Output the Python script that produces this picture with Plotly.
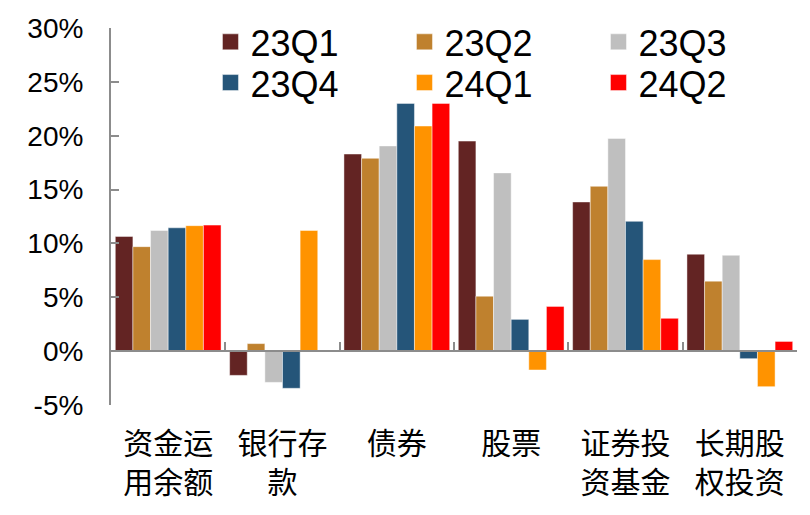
import plotly.graph_objects as go

categories = ["资金运<br>用余额", "银行存<br>款", "债券", "股票", "证券投<br>资基金", "长期股<br>权投资"]
series_names = ["23Q1", "23Q2", "23Q3", "23Q4", "24Q1", "24Q2"]
v_23Q1 = [10.65, -2.25, 18.3, 19.5, 13.85, 9.0]
v_23Q2 = [9.7, 0.7, 17.9, 5.1, 15.3, 6.5]
v_23Q3 = [11.2, -2.9, 19.05, 16.55, 19.75, 8.9]
v_23Q4 = [11.45, -3.45, 23.0, 2.95, 12.05, -0.7]
v_24Q1 = [11.65, 11.2, 20.9, -1.75, 8.5, -3.3]
v_24Q2 = [11.7, None, 23.0, 4.15, 3.05, 0.9]
series_values = [v_23Q1, v_23Q2, v_23Q3, v_23Q4, v_24Q1, v_24Q2]
colors = ["#632423", "#BF812E", "#BFBFBF", "#255579", "#FF9300", "#FF0000"]

y_ticks = [-5, 0, 5, 10, 15, 20, 25, 30]
y_tick_labels = [f"{v}%" for v in y_ticks]
y_min, y_max = y_ticks[0], y_ticks[-1]
axis_gray = "#8C8C8C"
cjk_font = "Noto Sans CJK SC, Noto Sans CJK JP, sans-serif"
lat_font = "Liberation Sans, Arial, sans-serif"

fig = go.Figure()
for name, vals, col in zip(series_names, series_values, colors):
    fig.add_trace(go.Bar(
        x=categories, y=vals, name=name, marker_color=col,
        marker_line=dict(color="rgba(255,255,255,0.45)", width=1),
        showlegend=False,
    ))

# legend entries (larger square symbols), split into two rows
for i, (name, col) in enumerate(zip(series_names, colors)):
    fig.add_trace(go.Scatter(
        x=[None], y=[None], mode="markers", name=name,
        marker=dict(symbol="square", size=16, color=col,
                    line=dict(color="rgba(255,255,255,0.45)", width=1)),
        legend="legend" if i < 3 else "legend2",
    ))

# helper trace for the zero-line axis
fig.add_trace(go.Scatter(x=[None], y=[None], xaxis="x2", showlegend=False, hoverinfo="skip"))

n = len(categories)
boundaries = [i - 0.5 for i in range(n + 1)]

legend_common = dict(
    orientation="h", bgcolor="rgba(0,0,0,0)", entrywidth=149, entrywidthmode="pixels",
    font=dict(family=lat_font, size=36, color="black"), xanchor="left", yanchor="middle",
    itemsizing="trace", tracegroupgap=0,
)

# page body has an 8px default margin; margins compensate so the plot area
# lands at x 111..797, y 28..405 in the window
fig.update_layout(
    width=810, height=515,
    margin=dict(l=103, r=21, t=20, b=118, autoexpand=False),
    plot_bgcolor="white", paper_bgcolor="white",
    barmode="group", bargap=0.075, bargroupgap=0,
    legend=dict(x=0.145, y=0.963, **legend_common),
    legend2=dict(x=0.145, y=0.855, **legend_common),
    xaxis=dict(
        type="category", range=[-0.5, n - 0.5], showline=False, ticks="",
        showgrid=False, zeroline=False, automargin=False,
        tickfont=dict(family=cjk_font, size=30, color="black"),
        ticklabelstandoff=18,
    ),
    xaxis2=dict(
        overlaying="x", anchor="free", position=(0 - y_min) / (y_max - y_min),
        range=[-0.5, n - 0.5], showline=True, linecolor=axis_gray, linewidth=2,
        ticks="inside", ticklen=8, tickwidth=2, tickcolor=axis_gray,
        tickmode="array", tickvals=boundaries, showticklabels=False,
        showgrid=False, zeroline=False, fixedrange=True, automargin=False,
    ),
    yaxis=dict(
        range=[y_min, y_max], tickmode="array", tickvals=y_ticks, ticktext=y_tick_labels,
        showline=True, linecolor=axis_gray, linewidth=2,
        ticks="inside", ticklen=8, tickwidth=2, tickcolor=axis_gray,
        showgrid=False, zeroline=False, automargin=False,
        tickfont=dict(family=lat_font, size=28, color="black"),
        ticklabelstandoff=20,
    ),
)

fig.write_html("out.html")
